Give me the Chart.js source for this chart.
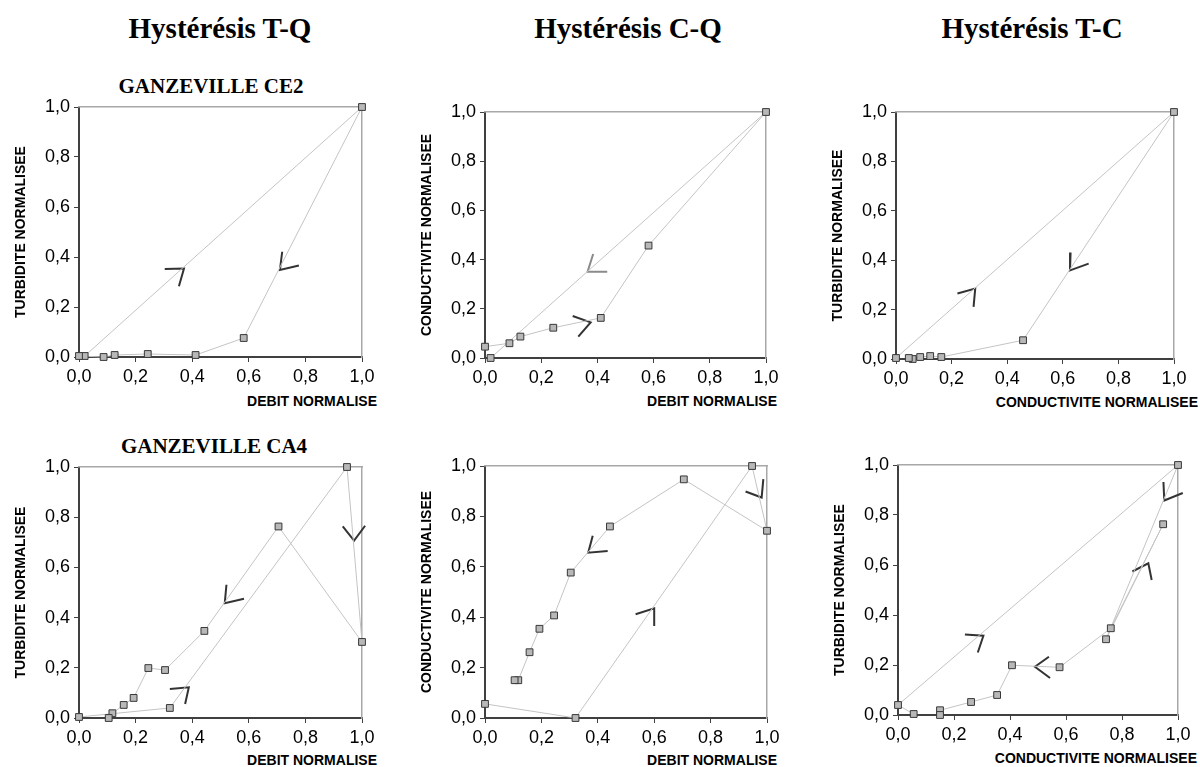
<!DOCTYPE html>
<html><head><meta charset="utf-8">
<script src="https://cdn.jsdelivr.net/npm/chart.js@4.4.1/dist/chart.umd.min.js"></script>
<style>
body{margin:0;background:#fff;width:1200px;height:767px;position:relative;overflow:hidden;font-family:"Liberation Sans",Arial,sans-serif;}
.t{position:absolute;font-family:"Liberation Serif","Times New Roman",serif;font-weight:bold;color:#000;white-space:nowrap;line-height:1;transform:translate(-50%,-50%);}
.xt{position:absolute;font-family:"Liberation Sans",Arial,sans-serif;font-weight:bold;font-size:14px;line-height:1;color:#000;white-space:nowrap;transform:translate(-100%,-50%);}
canvas{position:absolute;}
</style></head><body>
<div class="t" style="left:220px;top:28px;font-size:29px">Hystérésis T-Q</div>
<div class="t" style="left:628px;top:28px;font-size:29px">Hystérésis C-Q</div>
<div class="t" style="left:1032px;top:28px;font-size:29px">Hystérésis T-C</div>
<div class="t" style="left:211px;top:86px;font-size:21px">GANZEVILLE CE2</div>
<div class="t" style="left:214px;top:446px;font-size:21px">GANZEVILLE CA4</div>
<div class="xt" style="left:377px;top:401px">DEBIT NORMALISE</div>
<div class="xt" style="left:777px;top:401px">DEBIT NORMALISE</div>
<div class="xt" style="left:1198px;top:402px">CONDUCTIVITE NORMALISEE</div>
<div class="xt" style="left:377px;top:760px">DEBIT NORMALISE</div>
<div class="xt" style="left:777px;top:760px">DEBIT NORMALISE</div>
<div class="xt" style="left:1197px;top:758px">CONDUCTIVITE NORMALISEE</div>
<canvas id="c1"></canvas><canvas id="c2"></canvas><canvas id="c3"></canvas>
<canvas id="c4"></canvas><canvas id="c5"></canvas><canvas id="c6"></canvas>
<script>
// ---- data (normalised values, in time order) ----
const qCE2 = [0.020, 1.0, 0.582, 0.412, 0.243, 0.126, 0.087, 0.0];
const tCE2 = [0.004, 1.0, 0.076, 0.008, 0.012, 0.008, 0.0, 0.004];
const cCE2 = [0.0, 1.0, 0.457, 0.163, 0.123, 0.087, 0.060, 0.046];
const qCA4 = [0.0, 0.321, 0.947, 1.0, 0.705, 0.443, 0.304, 0.245, 0.193, 0.158, 0.118, 0.105];
const tCA4 = [0.004, 0.040, 1.0, 0.303, 0.763, 0.347, 0.191, 0.199, 0.080, 0.052, 0.019, 0.0];
const cCA4 = [0.056, 0.0, 1.0, 0.743, 0.947, 0.760, 0.577, 0.407, 0.354, 0.261, 0.150, 0.150];
const tickLabels = ['0,0','0,2','0,4','0,6','0,8','1,0'];
const yTitleT = 'TURBIDITE NORMALISEE';
const yTitleC = 'CONDUCTIVITE NORMALISEE';
// hand-drawn direction chevrons (data units): [arm, tip, arm]
const arrowsTQ_CE2 = [[[0.303,0.352],[0.371,0.354],[0.353,0.283]], [[0.718,0.421],[0.710,0.348],[0.777,0.366]]];
const arrowsCQ_CE2 = [[[0.385,0.423],[0.365,0.351],[0.435,0.351]], [[0.312,0.171],[0.376,0.145],[0.332,0.087]]];
const arrowsTC_CE2 = [[[0.221,0.265],[0.285,0.285],[0.279,0.211]], [[0.628,0.431],[0.626,0.359],[0.693,0.386]]];
const arrowsTQ_CA4 = [[[0.321,0.116],[0.388,0.122],[0.375,0.056]], [[0.521,0.531],[0.515,0.457],[0.583,0.475]], [[0.932,0.763],[0.972,0.707],[1.011,0.766]]];
const arrowsCQ_CA4 = [[[0.382,0.723],[0.366,0.656],[0.435,0.663]], [[0.534,0.412],[0.600,0.435],[0.600,0.365]], [[0.924,0.899],[0.981,0.875],[0.987,0.948]]];
const arrowsTC_CA4 = [[[0.239,0.322],[0.305,0.317],[0.285,0.250]], [[0.539,0.233],[0.489,0.193],[0.543,0.148]], [[0.837,0.574],[0.894,0.607],[0.906,0.540]], [[0.948,0.932],[0.951,0.858],[1.017,0.888]]];

// ---- layout: plot rectangles [left, top, right, bottom] ----
const panels = [
  {id:'c1', rect:[79,107,362,357], xs:qCE2, ys:tCE2, yTitle:yTitleT, arrows:arrowsTQ_CE2, arrowColors:['#333','#333']},
  {id:'c2', rect:[485,112,766,358], xs:qCE2, ys:cCE2, yTitle:yTitleC, arrows:arrowsCQ_CE2, arrowColors:['#8a8a8a','#333']},
  {id:'c3', rect:[896,112,1174,359], xs:cCE2, ys:tCE2, yTitle:yTitleT, arrows:arrowsTC_CE2, arrowColors:['#333','#333']},
  {id:'c4', rect:[79,467,362,718], xs:qCA4, ys:tCA4, yTitle:yTitleT, arrows:arrowsTQ_CA4, arrowColors:['#333','#333','#333']},
  {id:'c5', rect:[485,466,767,718], xs:qCA4, ys:cCA4, yTitle:yTitleC, arrows:arrowsCQ_CA4, arrowColors:['#333','#333','#333']},
  {id:'c6', rect:[898,465,1178,715], xs:cCA4, ys:tCA4, yTitle:yTitleT, arrows:arrowsTC_CA4, arrowColors:['#333','#333','#333','#333']}
];
const YW = 70, PT = 15, PR = 22, XH = 30;
const FONT = '"Liberation Sans", Arial, sans-serif';
const fmt = v => tickLabels[Math.round(v * 5)];

panels.forEach(p => {
  const [L, T, R, B] = p.rect;
  const cv = document.getElementById(p.id);
  cv.width = (R - L) + YW + PR;
  cv.height = (B - T) + PT + XH;
  cv.style.left = (L - YW) + 'px';
  cv.style.top = (T - PT) + 'px';
  const datasets = [{
    data: p.xs.map((x, i) => ({x, y: p.ys[i]})),
    showLine: true, borderColor: '#c4c4c4', borderWidth: 1,
    pointStyle: 'rect', pointRadius: 4.8, pointBackgroundColor: '#b8b8b8',
    pointBorderColor: '#383838', pointBorderWidth: 1, clip: false
  }];
  p.arrows.forEach((a, k) => datasets.push({
    data: a.map(([x, y]) => ({x, y})), showLine: true,
    borderColor: p.arrowColors[k], borderWidth: 2, pointRadius: 0, clip: false,
    borderJoinStyle: 'miter'
  }));
  const tickOpts = {stepSize: 0.2, callback: fmt, color: '#000', font: {family: FONT, size: 18}, maxRotation: 0, autoSkip: false};
  new Chart(cv, {
    type: 'scatter',
    data: {datasets},
    options: {
      responsive: false, animation: false, devicePixelRatio: 1,
      events: [],
      layout: {padding: {left: 0, top: PT, right: PR, bottom: 0}},
      plugins: {legend: {display: false}, tooltip: {enabled: false}},
      scales: {
        x: {type: 'linear', position: 'bottom', min: 0, max: 1,
          ticks: Object.assign({padding: 4}, tickOpts),
          grid: {display: true, drawOnChartArea: false, drawTicks: true, tickLength: 5, tickColor: '#404040', tickWidth: 1},
          border: {display: true, color: '#404040', width: 2},
          afterFit: s => { s.height = XH; s.paddingLeft = 0; s.paddingRight = 0; }},
        y: {type: 'linear', position: 'left', min: 0, max: 1,
          ticks: Object.assign({padding: 4}, tickOpts),
          grid: {display: true, drawOnChartArea: false, drawTicks: true, tickLength: 5, tickColor: '#404040', tickWidth: 1},
          border: {display: true, color: '#404040', width: 2},
          title: {display: true, text: p.yTitle, color: '#000', font: {family: FONT, size: 14, weight: 'bold'}, padding: {top: 4, bottom: 0}},
          afterFit: s => { s.width = YW; s.paddingTop = 0; s.paddingBottom = 0; }},
        x2: {type: 'linear', position: 'top', min: 0, max: 1,
          ticks: {display: false}, grid: {display: false},
          border: {display: true, color: '#a8a8a8', width: 1.5},
          afterFit: s => { s.height = 0; s.paddingLeft = 0; s.paddingRight = 0; }},
        y2: {type: 'linear', position: 'right', min: 0, max: 1,
          ticks: {display: false}, grid: {display: false},
          border: {display: true, color: '#a8a8a8', width: 1.5},
          afterFit: s => { s.width = 0; s.paddingTop = 0; s.paddingBottom = 0; }}
      }
    }
  });
});
</script>
</body></html>
